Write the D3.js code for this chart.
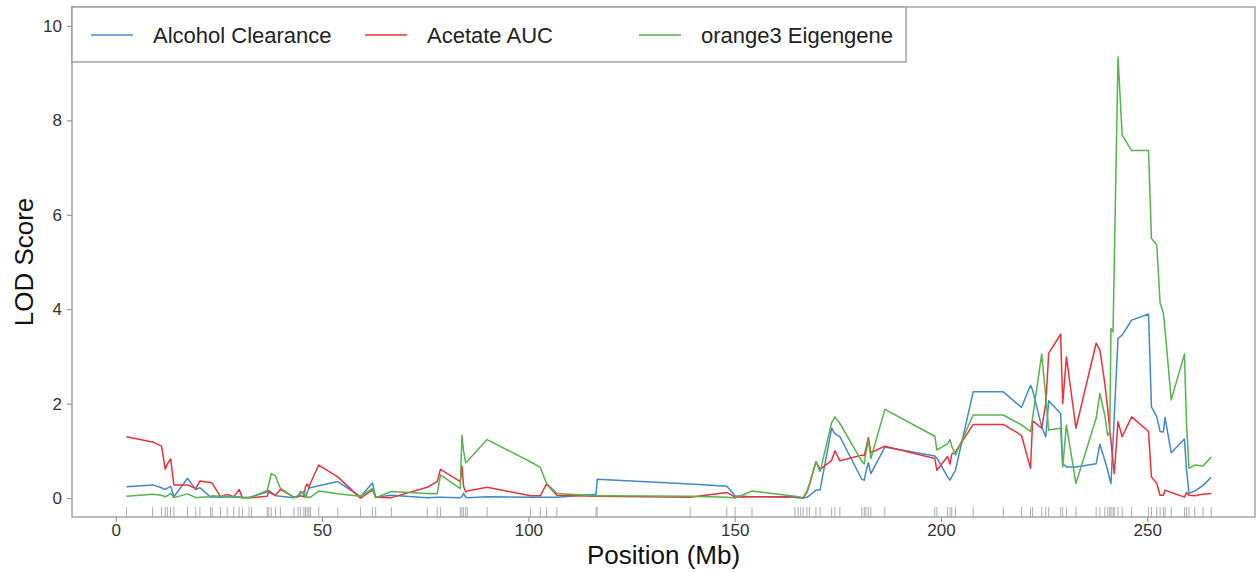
<!DOCTYPE html>
<html>
<head>
<meta charset="utf-8">
<script src="https://cdn.jsdelivr.net/npm/d3@7"></script>
<style>
  body { margin: 0; background: #fff; }
  text { font-family: "Liberation Sans", Arial, Helvetica, sans-serif; }
</style>
</head>
<body>
<div id="chart"></div>
<script>
// marker positions (Mb) shared by all three scans
var positions = [2.6, 8.9, 11.1, 12.0, 12.5, 13.3, 14.1, 17.4, 19.4, 20.4,
  23.0, 23.4, 25.4, 27.0, 28.6, 29.9, 30.7, 32.3, 32.9, 36.7,
  37.1, 37.7, 38.7, 39.9, 43.2, 44.2, 44.8, 45.6, 46.0, 46.4,
  46.8, 47.2, 49.2, 53.8, 59.3, 62.2, 63.0, 66.8, 75.5, 77.9,
  78.7, 83.5, 83.9, 84.3, 84.8, 85.2, 90.0, 100.5, 102.9, 104.4,
  106.9, 116.4, 116.7, 139.2, 148.1, 150.1, 154.2, 164.6, 165.4, 166.0,
  166.6, 167.5, 168.1, 169.7, 170.7, 173.5, 174.3, 175.5, 180.8, 181.4,
  181.8, 182.4, 183.0, 186.4, 198.5, 199.0, 201.6, 202.2, 202.6, 203.5,
  207.8, 215.1, 219.5, 221.7, 222.2, 224.4, 225.4, 226.1, 229.0, 229.5,
  230.4, 232.7, 237.6, 238.5, 239.7, 240.4, 240.9, 241.2, 241.7, 242.0,
  242.9, 243.9, 246.2, 250.3, 251.0, 252.3, 253.1, 253.9, 254.3, 255.8,
  259.0, 259.5, 260.1, 261.5, 263.5, 265.5];

// LOD scores, one value per marker
var alcoholClearance = [0.24, 0.28, 0.22, 0.18, 0.21, 0.25, 0.03, 0.42, 0.18, 0.22,
  0.02, 0.03, 0.02, 0.03, 0.02, 0.02, 0.01, 0.02, 0.03, 0.13,
  0.16, 0.12, 0.05, 0.04, 0.01, 0.05, 0.14, 0.08, 0.01, 0.12,
  0.21, 0.22, 0.26, 0.35, 0.03, 0.32, 0.02, 0.06, 0.01, 0.02,
  0.02, 0.01, 0.03, 0.10, 0.02, 0.01, 0.03, 0.02, 0.02, 0.02,
  0.02, 0.08, 0.40, 0.30, 0.25, 0.05, 0.03, 0.02, 0.01, 0.01,
  0.00, 0.02, 0.05, 0.17, 0.17, 1.48, 1.36, 1.30, 0.40, 0.38,
  0.55, 0.75, 0.52, 1.08, 0.89, 0.85, 0.45, 0.38, 0.45, 0.59,
  2.25, 2.25, 1.92, 2.39, 2.29, 1.51, 1.30, 2.06, 1.79, 0.73,
  0.66, 0.66, 0.73, 1.14, 0.80, 0.59, 0.40, 0.31, 1.20, 1.75,
  3.38, 3.45, 3.77, 3.90, 1.93, 1.72, 1.41, 1.40, 1.71, 0.96,
  1.25, 0.60, 0.10, 0.15, 0.27, 0.44];

var acetateAUC = [1.30, 1.19, 1.10, 0.61, 0.72, 0.83, 0.28, 0.28, 0.20, 0.36,
  0.33, 0.31, 0.03, 0.08, 0.03, 0.18, 0.01, 0.01, 0.01, 0.04,
  0.14, 0.10, 0.06, 0.18, 0.02, 0.03, 0.05, 0.03, 0.25, 0.30,
  0.22, 0.32, 0.70, 0.45, 0.00, 0.17, 0.02, 0.01, 0.23, 0.35,
  0.61, 0.35, 0.68, 0.25, 0.13, 0.15, 0.23, 0.05, 0.05, 0.30,
  0.06, 0.04, 0.04, 0.02, 0.12, 0.02, 0.03, 0.03, 0.02, 0.01,
  0.00, 0.12, 0.27, 0.77, 0.61, 0.80, 1.00, 0.79, 0.91, 0.90,
  1.05, 1.28, 0.96, 1.10, 0.84, 0.59, 0.88, 0.72, 0.93, 0.98,
  1.56, 1.56, 1.33, 0.63, 1.64, 1.48, 2.00, 3.07, 3.47, 2.00,
  2.99, 1.48, 3.28, 3.14, 2.43, 1.90, 1.44, 1.20, 0.75, 0.52,
  1.62, 1.30, 1.72, 1.41, 0.45, 0.31, 0.06, 0.06, 0.17, 0.12,
  0.02, 0.12, 0.06, 0.05, 0.08, 0.10];

var orange3Eigengene = [0.04, 0.08, 0.06, 0.03, 0.05, 0.10, 0.01, 0.09, 0.01, 0.02,
  0.03, 0.05, 0.04, 0.04, 0.03, 0.03, 0.02, 0.01, 0.02, 0.16,
  0.30, 0.52, 0.47, 0.21, 0.01, 0.03, 0.10, 0.14, 0.02, 0.03,
  0.02, 0.02, 0.15, 0.09, 0.04, 0.20, 0.01, 0.14, 0.10, 0.09,
  0.49, 0.20, 1.33, 1.00, 0.75, 0.78, 1.24, 0.77, 0.65, 0.31,
  0.10, 0.05, 0.05, 0.04, 0.02, 0.00, 0.15, 0.04, 0.03, 0.02,
  0.01, 0.15, 0.30, 0.77, 0.56, 1.60, 1.72, 1.58, 0.78, 0.73,
  0.95, 1.24, 0.84, 1.88, 1.31, 1.02, 1.15, 1.24, 1.10, 0.91,
  1.76, 1.76, 1.55, 1.41, 1.70, 3.05, 2.15, 1.44, 1.48, 0.66,
  1.55, 0.31, 1.69, 2.22, 1.75, 1.33, 1.40, 3.59, 3.52, 4.98,
  9.34, 7.69, 7.36, 7.36, 5.50, 5.36, 4.13, 3.92, 3.56, 2.08,
  3.05, 1.60, 0.63, 0.70, 0.68, 0.87];

var seriesNames = ['Alcohol Clearance', 'Acetate AUC', 'orange3 Eigengene'];
var seriesValues = [alcoholClearance, acetateAUC, orange3Eigengene];
var seriesColors = ['#4189cc', '#ec3139', '#55b44b'];

// tick labels
var xTicks = [0, 50, 100, 150, 200, 250];
var yTicks = [0, 2, 4, 6, 8, 10];

// define svg area
var svgWidth = 1259;
var svgHeight = 572;

var margin = {
  top: 7,
  right: 4,
  bottom: 55,
  left: 72
};

var chartWidth = svgWidth - margin.left - margin.right;
var chartHeight = svgHeight - margin.top - margin.bottom;

var svg = d3.select('#chart')
  .append('svg')
  .attr('width', svgWidth)
  .attr('height', svgHeight)
  .style('background', '#fff');

var chartGroup = svg.append('g')
  .attr('transform', `translate(${margin.left}, ${margin.top})`);

// scales (R style: range padded 4%)
var xLinearScale = d3.scaleLinear()
  .domain([-10.6, 276.1])
  .range([0, chartWidth]);

var yLinearScale = d3.scaleLinear()
  .domain([-0.4, 10.4])
  .range([chartHeight, 0]);

// axes
var bottomAxis = d3.axisBottom(xLinearScale)
  .tickValues(xTicks)
  .tickSize(5)
  .tickSizeOuter(0)
  .tickPadding(2);

var leftAxis = d3.axisLeft(yLinearScale)
  .tickValues(yTicks)
  .tickSize(5)
  .tickSizeOuter(0)
  .tickPadding(5);

var xAxis = chartGroup.append('g')
  .attr('transform', `translate(0, ${chartHeight})`)
  .call(bottomAxis);

var yAxis = chartGroup.append('g')
  .call(leftAxis);

[xAxis, yAxis].forEach(function(ax) {
  ax.select('.domain').remove();
  ax.selectAll('line').attr('stroke', '#888').attr('stroke-width', 1);
  ax.selectAll('text')
    .attr('fill', '#333')
    .style('font-size', '17px')
    .style('font-family', '"Liberation Sans", Arial, sans-serif');
});

// rug of marker positions
chartGroup.append('g')
  .selectAll('line')
  .data(positions)
  .enter()
  .append('line')
  .attr('x1', d => xLinearScale(d))
  .attr('x2', d => xLinearScale(d))
  .attr('y1', chartHeight - 10)
  .attr('y2', chartHeight)
  .attr('stroke', '#999')
  .attr('stroke-width', 0.8);

// LOD lines
var lineGen = d3.line()
  .x(d => xLinearScale(d[0]))
  .y(d => yLinearScale(d[1]));

seriesValues.forEach(function(vals, i) {
  chartGroup.append('path')
    .datum(positions.map((p, j) => [p, vals[j]]))
    .attr('fill', 'none')
    .attr('stroke', seriesColors[i])
    .attr('stroke-width', 1.5)
    .attr('stroke-linejoin', 'round')
    .attr('d', lineGen);
});

// plot frame
chartGroup.append('rect')
  .attr('x', 0)
  .attr('y', 0)
  .attr('width', chartWidth)
  .attr('height', chartHeight)
  .attr('fill', 'none')
  .attr('stroke', '#999')
  .attr('stroke-width', 1.3);

// legend (top left, horizontal)
var legend = chartGroup.append('g');

legend.append('rect')
  .attr('x', 0)
  .attr('y', 0)
  .attr('width', 834)
  .attr('height', 55)
  .attr('fill', '#fff')
  .attr('stroke', '#999')
  .attr('stroke-width', 1.3);

var legendItems = legend.selectAll('g.item')
  .data(seriesNames)
  .enter()
  .append('g')
  .attr('class', 'item')
  .attr('transform', (d, i) => `translate(${19 + i * 274}, 28)`);

legendItems.append('line')
  .attr('x1', 0)
  .attr('x2', 42)
  .attr('stroke', (d, i) => seriesColors[i])
  .attr('stroke-width', 1.5);

legendItems.append('text')
  .attr('x', 62)
  .attr('y', 8)
  .attr('fill', '#222')
  .style('font-size', '22px')
  .text(d => d);

// axis titles
chartGroup.append('text')
  .attr('x', chartWidth / 2)
  .attr('y', chartHeight + 47)
  .attr('text-anchor', 'middle')
  .attr('fill', '#111')
  .style('font-size', '26px')
  .text('Position (Mb)');

chartGroup.append('text')
  .attr('transform', 'rotate(-90)')
  .attr('x', 0 - chartHeight / 2)
  .attr('y', -39)
  .attr('text-anchor', 'middle')
  .attr('fill', '#111')
  .style('font-size', '26px')
  .text('LOD Score');
</script>
</body>
</html>
